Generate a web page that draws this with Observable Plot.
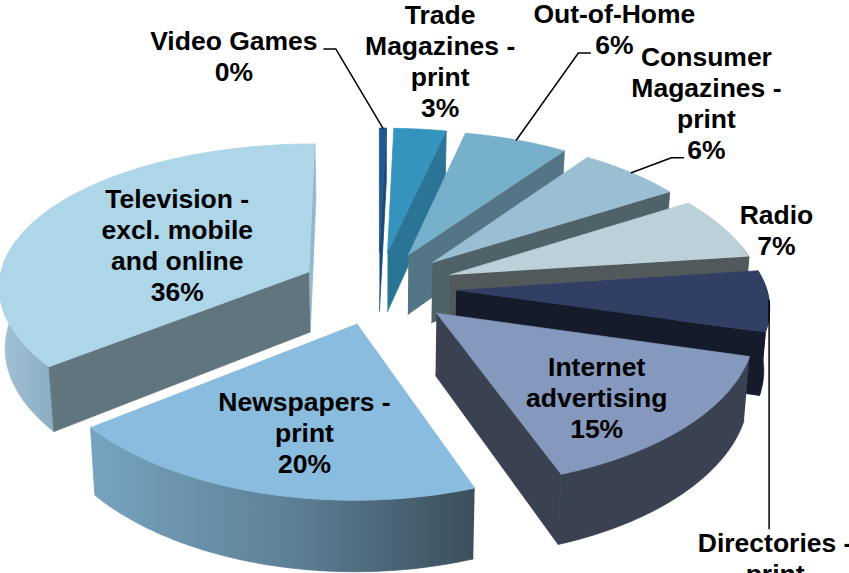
<!DOCTYPE html>
<html>
<head>
<meta charset="utf-8">
<script src="https://cdn.jsdelivr.net/npm/d3@7"></script>
<script src="https://cdn.jsdelivr.net/npm/@observablehq/plot@0.6"></script>
<style>html,body{margin:0;padding:0;background:#fff;overflow:hidden}</style>
</head>
<body>
<div id="chart"></div>
<script>
// Data, clockwise from 12 o'clock
const categories = ["Video Games", "Trade\nMagazines -\nprint", "Out-of-Home", "Consumer\nMagazines -\nprint", "Radio",
  "Directories -\nprint", "Internet\nadvertising", "Newspapers -\nprint", "Television -\nexcl. mobile\nand online"];
const shares = [0.4, 3, 6, 6, 7, 7, 15, 20, 35.6];

// Styles
const topColors = ["#20588f", "#3594bd", "#77b0cb", "#9abfd2", "#bbd0d8", "#313f65", "#8598bd", "#89bcde", "#aed6e9"];
const cutColors = ["#1a4a78", "#2a7596", "#537586", "#506269", "#52595b", "#151b2b", "#3a4252", "#44586a", "#61757f"];
const rimColors = ["#1a4a78", "#2a7596", "#537586", "#506269", "#52595b", "#151b2b", "#3a4252", "url(#npRim)", "url(#tvRim)"];

// Label placement relative to the slice's outer edge
const labelDx = [-149, 20, 98, 75, 52, 6, -90.5, 45, 132];
const labelDy = [-72, -69, -111.3, -70.5, 1, 272, -29, -61, 32.5];
const leaderPath = {0: [[-47, -79], [-59, -79]], 2: [[62, -87], [74, -87]], 3: [[40, -15], [52, -15]], 5: [[0, 228]]};

// 3-D view of the pie
const view = {cx: 378, cy: 287, rx: 311, ry: 146.4, kx: 0.09, ky: 0.118, explode: 0.25, depth: 61, taper: 0.985, sag: 6};
const rad = d => d / 100 * 2 * Math.PI;
function upper(X, Y) {
  const sag = view.sag * Math.min(1, Math.max(0, X)) * Math.exp(-(((Y - 0.45) / 0.6) ** 2));
  return {x: view.cx + view.rx * X / (1 + view.kx * Y), y: view.cy + sag - view.ry * Y / (1 + view.ky * Y), s: 1 / (1 + view.ky * Y)};
}
function lower(p) {
  return {x: view.cx + (p.x - view.cx) * view.taper, y: p.y + view.depth * p.s};
}
let acc = 0;
const slices = shares.map((v, i) => {
  const a1 = acc, a2 = acc + v; acc = a2;
  const mid = rad((a1 + a2) / 2);
  const ox = view.explode * Math.sin(mid), oy = view.explode * Math.cos(mid);
  const at = a => upper(ox + Math.sin(rad(a)), oy + Math.cos(rad(a)));
  const arc = d3.range(0, 61).map(k => at(a1 + (a2 - a1) * k / 60));
  return {i, a1, a2, tip: upper(ox, oy), arc, at, anchor: upper(ox + Math.sin(mid), oy + Math.cos(mid))};
});

const marks = [];
marks.push(() => {
  const defs = d3.create("svg:defs");
  const grad = (id, stops) => {
    const g = defs.append("linearGradient").attr("id", id);
    stops.forEach(([o, c]) => g.append("stop").attr("offset", o).attr("stop-color", c));
  };
  grad("npRim", [[0, "#76a4c0"], [0.5, "#5f8299"], [1, "#3b4e5b"]]);
  grad("tvRim", [[0, "#a3c3d7"], [1, "#8aadc2"]]);
  return defs.node();
});
const poly = (pts, fill) => marks.push(Plot.line(pts, {x: "x", y: "y", fill, stroke: fill, strokeWidth: 0.8, curve: "linear"}));

for (const s of slices) {
  const {i, a1, a2, tip, arc} = s;
  const first = arc[0], last = arc[arc.length - 1];
  // rim, only the part facing the viewer
  const rim = arc.filter((p, k) => { const a = a1 + (a2 - a1) * k / 60; return a > 21 && a < 79; });
  if (rim.length > 1) poly([...rim, ...rim.map(lower).reverse()], rimColors[i]);
  // cut faces that face the viewer
  if (a2 <= 50 || a2 === acc) poly([tip, last, lower(last), lower(tip)], i === 8 ? "#93b8cd" : cutColors[i]);
  if (a1 >= 50) poly([tip, first, lower(first), lower(tip)], cutColors[i]);
  // top face
  poly([tip, ...arc], topColors[i]);
}

// leader lines
slices.forEach(s => {
  const path = leaderPath[s.i];
  if (path) {
    const pts = [{x: s.anchor.x, y: s.anchor.y}, ...path.map(([dx, dy]) => ({x: s.anchor.x + dx, y: s.anchor.y + dy}))];
    marks.push(Plot.line(pts, {x: "x", y: "y", stroke: "#000", strokeWidth: 1.5, curve: "linear"}));
  }
});

// labels
const labels = slices.map(s => ({
  x: s.anchor.x + labelDx[s.i],
  y: s.anchor.y + labelDy[s.i],
  text: `${categories[s.i]}\n${Math.round(shares[s.i])}%`
}));
marks.push(Plot.text(labels, {
  x: "x", y: "y", text: "text", fill: "#000", fontSize: 26.5, fontWeight: "bold",
  fontFamily: "Liberation Sans", lineHeight: 1.17, textAnchor: "middle", lineAnchor: "middle"
}));

const chart = Plot.plot({
  width: 849, height: 573, margin: 0,
  x: {domain: [0, 849], range: [0, 849], axis: null},
  y: {domain: [0, 573], range: [0, 573], axis: null},
  style: {overflow: "hidden", background: "#fff"},
  marks
});
document.getElementById("chart").appendChild(chart);
</script>
</body>
</html>
